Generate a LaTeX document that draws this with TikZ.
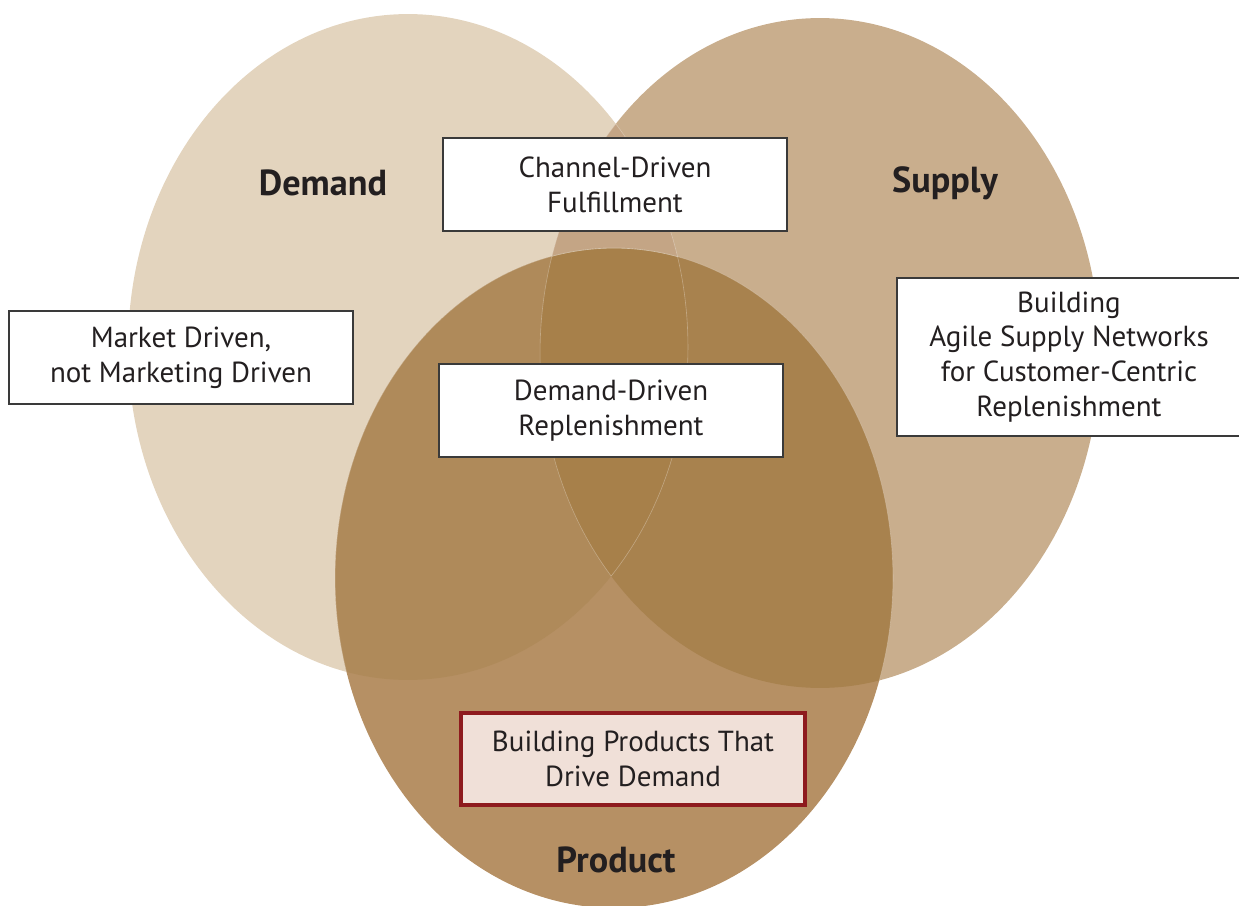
\documentclass[tikz,border=0pt]{standalone}
\usepackage{fontspec}
\setmainfont{PT Sans}
\definecolor{demandc}{HTML}{E3D4BE}
\definecolor{supplyc}{HTML}{C9AE8D}
\definecolor{productc}{HTML}{B69064}
\definecolor{dsc}{HTML}{C4A585}
\definecolor{dpc}{HTML}{AF8A5A}
\definecolor{spc}{HTML}{A8824E}
\definecolor{dspc}{HTML}{A7804A}
\definecolor{ink}{HTML}{231F20}
\definecolor{boxline}{HTML}{3A3A3A}
\definecolor{redline}{HTML}{8E1B1E}
\definecolor{pinkfill}{HTML}{F0E0D8}
\begin{document}
\begin{tikzpicture}[x=0.02cm,y=-0.02cm,
  box/.style={draw=boxline, line width=0.7pt, fill=white, align=center,
    minimum width=6.88cm, minimum height=1.86cm, inner sep=0pt,
    font=\fontsize{16.5}{19.8}\selectfont, text=ink},
  keybox/.style={box, draw=redline, fill=pinkfill, line width=2.3pt,
    minimum width=6.88cm, minimum height=1.84cm},
  setlabel/.style={font=\fontsize{20.6}{24}\selectfont\bfseries, text=ink, anchor=base},
  seam/.style={draw=white, draw opacity=0.3, line width=0.35pt}]
\useasboundingbox (0,0) rectangle (1239,905);

% the three sets
\def\demandpath{(408,347) ellipse [x radius=5.6cm, y radius=6.66cm]}
\def\supplypath{(820,353) ellipse [x radius=5.6cm, y radius=6.7cm]}
\def\productpath{(614,578) ellipse [x radius=5.58cm, y radius=6.6cm]}

\fill[demandc] \demandpath;
\fill[supplyc] \supplypath;
\fill[productc] \productpath;
\begin{scope}
  \clip \demandpath;
  \fill[dsc] \supplypath;
  \fill[dpc] \productpath;
\end{scope}
\begin{scope}
  \clip \supplypath;
  \fill[spc] \productpath;
\end{scope}
\begin{scope}
  \clip \demandpath;
  \clip \supplypath;
  \fill[dspc] \productpath;
\end{scope}

% faint seams where the sets overlap
\begin{scope}
  \clip \supplypath;
  \path[seam] \demandpath;
\end{scope}
\begin{scope}
  \clip \demandpath;
  \path[seam] \supplypath;
  \path[seam] \productpath;
\end{scope}
\begin{scope}
  \clip \supplypath;
  \path[seam] \productpath;
\end{scope}

% set titles
\node[setlabel] (demand) at (323,196) {Demand};
\node[setlabel] (supply) at (945,193) {Supply};
\node[setlabel] (product) at (616,872) {Product};

% captions
\node[box] (channel) at (615,184.5) {Channel-Driven\\Fulfillment};
\node[box] (market) at (181,357.5) {Market Driven,\\not Marketing Driven};
\node[box] (ddr) at (611,410.5) {Demand-Driven\\Replenishment};
\node[box, minimum height=3.16cm] (agile) at (1069,357) {Building\\Agile Supply Networks\\for Customer-Centric\\Replenishment};
\node[keybox] (products) at (633,759) {Building Products That\\Drive Demand};
\end{tikzpicture}
\end{document}
